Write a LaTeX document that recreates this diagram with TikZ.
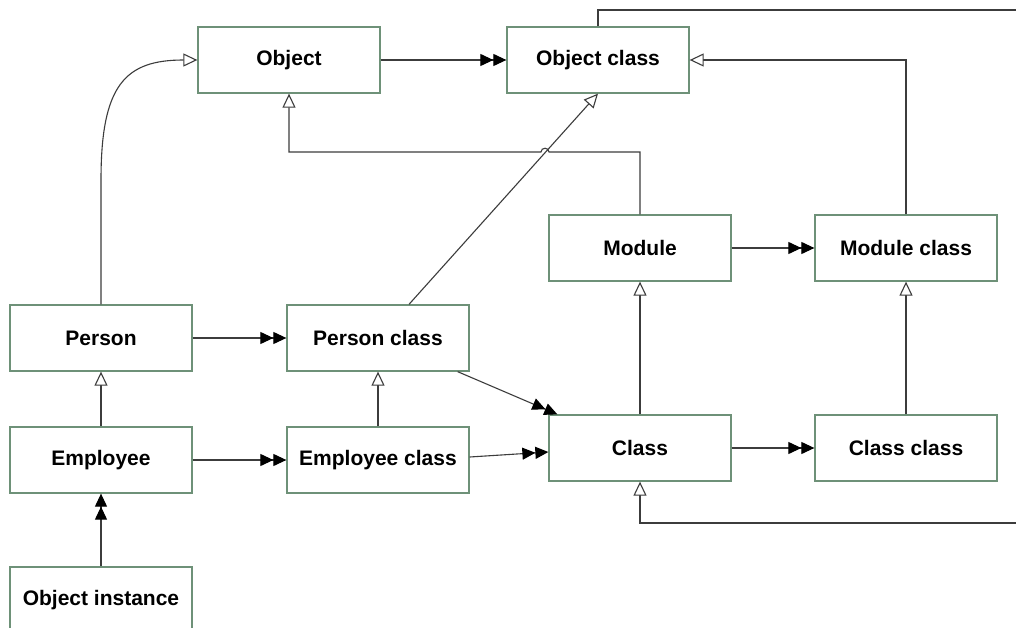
\documentclass[tikz,border=0pt]{standalone}
\usepackage{fontspec}
\setmainfont{Liberation Sans}
\usetikzlibrary{arrows.meta}
\definecolor{boxc}{RGB}{110,145,120}
\definecolor{linec}{RGB}{60,60,60}
\begin{document}
\begin{tikzpicture}[x=1pt,y=-1pt,
  box/.style={draw=boxc, line width=1.3pt, fill=white, minimum width=182pt, minimum height=66pt, inner sep=0pt, font=\fontsize{21}{24}\selectfont\bfseries},
  conn/.style={draw=linec, line width=1.1pt},
  dbl/.style={conn, -{Triangle[length=13pt,width=12pt,color=black] Triangle[length=13pt,width=12pt,color=black]}},
  gen/.style={conn, -{Triangle[open,length=14pt,width=13pt,fill=white]}}]
\useasboundingbox (0,0) rectangle (1016,628);
\clip (0,0) rectangle (1016,628);
\fill[white] (0,0) rectangle (1016,628);

\node[box] (obj)  at (289,60)  {Object};
\node[box] (objc) at (598,60)  {Object class};
\node[box] (mod)  at (640,248) {Module};
\node[box] (modc) at (906,248) {Module class};
\node[box] (per)  at (101,338) {Person};
\node[box] (perc) at (378,338) {Person class};
\node[box] (emp)  at (101,460) {Employee};
\node[box] (empc) at (378,460) {Employee class};
\node[box] (cls)  at (640,448) {Class};
\node[box] (clsc) at (906,448) {Class class};
\node[box] (inst) at (101,600) {Object instance};

\coordinate (m1) at (640,152);
\coordinate (h1) at (549,152);
\coordinate (h2) at (541,152);
\coordinate (o1) at (289,152);
\coordinate (t1) at (598,10);
\coordinate (t2) at (1030,10);
\coordinate (t3) at (1030,523);
\coordinate (t4) at (640,523);
\coordinate (p1) at (101,180);

\draw[dbl] (obj.east) -- (objc.west);
\draw[gen] (per.north) -- (p1) .. controls (101,85) and (125,60) .. (obj.west);
\draw[gen] (mod.north) -- (m1) -- (h1) .. controls (549,147) and (541,147) .. (h2) -- (o1) -- (obj.south);
\draw[gen] ([xshift=31pt]perc.north) -- (objc.south);
\draw[gen] (modc.north) |- (objc.east);
\draw[dbl] (mod.east) -- (modc.west);
\draw[gen] (cls.north) -- (mod.south);
\draw[gen] (clsc.north) -- (modc.south);
\draw[dbl] (cls.east) -- (clsc.west);
\draw[dbl] (per.east) -- (perc.west);
\draw[dbl] ([xshift=-12pt]perc.south east) -- ([xshift=9pt]cls.north west);
\draw[dbl] ([yshift=3pt]empc.east) -- ([yshift=-4pt]cls.west);
\draw[dbl] (emp.east) -- (empc.west);
\draw[gen] (empc.north) -- (perc.south);
\draw[gen] (emp.north) -- (per.south);
\draw[dbl] (inst.north) -- (emp.south);
\draw[gen] (objc.north) -- (t1) -- (t2) -- (t3) -- (t4) -- (cls.south);
\end{tikzpicture}
\end{document}
